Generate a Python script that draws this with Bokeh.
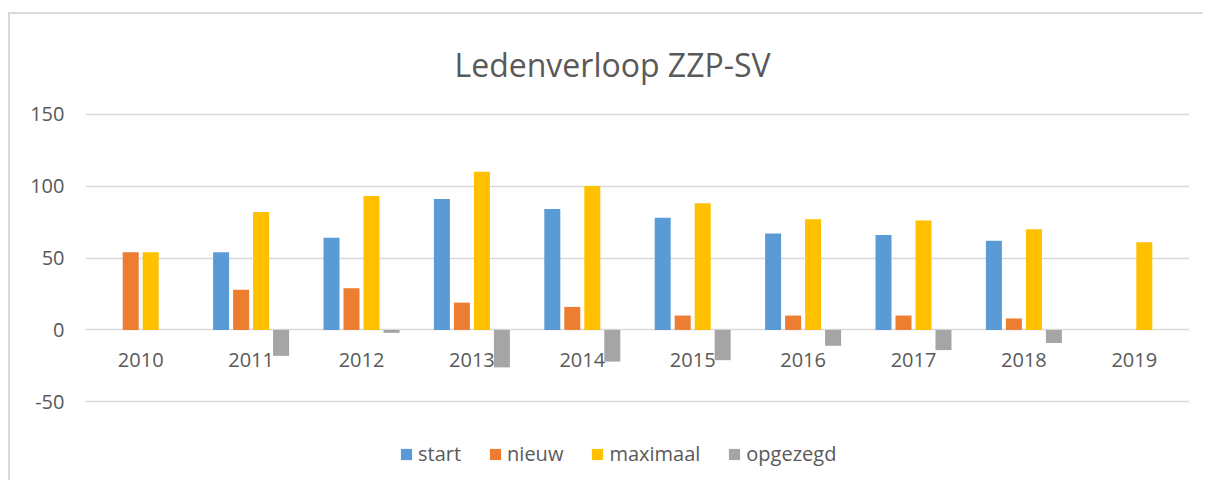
import numpy as np
from bokeh.plotting import figure
from bokeh.models import ColumnDataSource, FactorRange, Range1d, Legend, LegendItem, FixedTicker
from bokeh.core.properties import value
from bokeh.transform import dodge
from bokeh.embed import file_html
from bokeh.resources import INLINE

# ---- data ----
years = ["2010", "2011", "2012", "2013", "2014", "2015", "2016", "2017", "2018", "2019"]
start = [None, 54, 64, 91, 84, 78, 67, 66, 62, None]
nieuw = [54, 28, 29, 19, 16, 10, 10, 10, 8, None]
maximaal = [54, 82, 93, 110, 100, 88, 77, 76, 70, 61]
opgezegd = [None, -18, -2, -26, -22, -21, -11, -14, -9, None]
series_names = ["start", "nieuw", "maximaal", "opgezegd"]
y_ticks = [-50, 0, 50, 100, 150]
title_text = "Ledenverloop ZZP-SV"

# ---- styles ----
FONT = "Open Sans"
TXT = "#595959"
GRID = "#D9D9D9"
colors = ["#5B9BD5", "#ED7D31", "#FFC000", "#A5A5A5"]
offsets = [-0.2717, -0.0906, 0.0906, 0.2717]
bar_w = 0.145


def arr(v):
    return np.array([np.nan if x is None else x for x in v], dtype=float)


src = ColumnDataSource(dict(year=years, start=arr(start), nieuw=arr(nieuw),
                            maximaal=arr(maximaal), opgezegd=arr(opgezegd),
                            base=np.zeros(len(years))))

p = figure(x_range=FactorRange(*years, range_padding=0), y_range=Range1d(-106.0, 151.8),
           width=1195, height=468, output_backend="svg", toolbar_location=None,
           min_border_left=75, min_border_right=16, min_border_top=95, min_border_bottom=0,
           margin=(12, 0, 0, 8),
           styles={"border-top": "2px solid #D9D9D9", "border-left": "2px solid #D9D9D9"})
p.outline_line_color = None
p.xaxis.visible = False

p.title.text = title_text
p.title.text_font = FONT
p.title.text_font_size = "32px"
p.title.text_font_style = "normal"
p.title.text_color = TXT
p.title.align = "left"
p.title.offset = 369
p.title.standoff = 52

items = []
for name, col, off in zip(series_names, colors, offsets):
    r = p.vbar(x=dodge("year", off, range=p.x_range), top=name, bottom=0, width=bar_w,
               source=src, fill_color=col, line_color=None)
    items.append(LegendItem(label=name, renderers=[r]))

# category labels under the zero line
p.text(x="year", y="base", text="year", source=src, text_align="center", text_baseline="top",
       y_offset=23, text_font=value(FONT), text_font_size="20px", text_color=TXT)

legend = Legend(items=items, orientation="horizontal", location=(314, 15),
                label_text_font=FONT, label_text_font_size="20px", label_text_color=TXT,
                glyph_width=14, glyph_height=14, label_standoff=5, spacing=27,
                padding=0, margin=0, border_line_color=None, background_fill_alpha=0)
p.add_layout(legend)

# y axis
p.yaxis.ticker = FixedTicker(ticks=y_ticks)
p.yaxis.major_label_overrides = {t: str(t) for t in y_ticks}
p.yaxis.axis_line_color = None
p.yaxis.major_tick_line_color = None
p.yaxis.minor_tick_line_color = None
p.yaxis.major_label_standoff = 15
p.yaxis.major_label_text_font = FONT
p.yaxis.major_label_text_font_size = "20px"
p.yaxis.major_label_text_color = TXT

p.xgrid.grid_line_color = None
p.ygrid.ticker = FixedTicker(ticks=y_ticks)
p.ygrid.grid_line_color = GRID
p.ygrid.grid_line_width = 1.5

open("out.html", "w").write(file_html(p, INLINE))
